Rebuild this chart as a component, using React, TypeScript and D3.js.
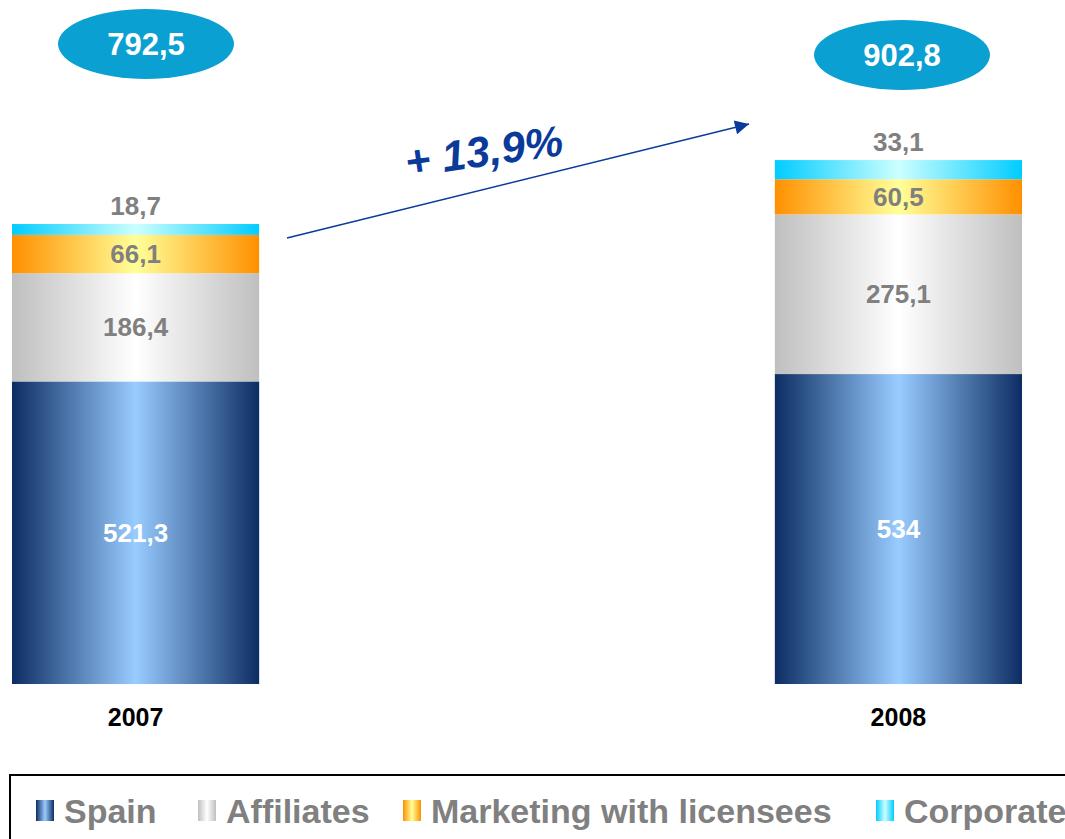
import { useRef, useEffect } from 'react';
import * as d3 from 'd3';

const YEARS = ['2007', '2008'];
const SERIES = ['Spain', 'Affiliates', 'Marketing with licensees', 'Corporate'];
const SPAIN = [521.3, 534];
const AFFILIATES = [186.4, 275.1];
const MARKETING = [66.1, 60.5];
const CORPORATE = [18.7, 33.1];
const TOTAL_LABELS = ['792,5', '902,8'];
const GROWTH_LABEL = '+ 13,9%';

// edge / centre colours of the horizontal gradients
const GRADIENTS = [
  { id: 'g-spain', edge: '#0c2d63', mid: '#99ccff' },
  { id: 'g-aff', edge: '#bfbfbf', mid: '#ffffff' },
  { id: 'g-mkt', edge: '#ff9000', mid: '#ffff99' },
  { id: 'g-corp', edge: '#00ccff', mid: '#ccffff' },
];

const fmt = (v: number) => String(v).replace('.', ',');

export default function App() {
  const svgRef = useRef<SVGSVGElement>(null);

  useEffect(() => {
    const svg = d3.select(svgRef.current);
    svg.selectAll('*').remove();
    const W = 1065, H = 839;
    svg.attr('width', W).attr('height', H).style('display', 'block')
      .style('font-family', '"Liberation Sans", Arial, sans-serif');

    const defs = svg.append('defs');
    GRADIENTS.forEach(g => {
      const lg = defs.append('linearGradient').attr('id', g.id)
        .attr('x1', '0%').attr('x2', '100%').attr('y1', '0%').attr('y2', '0%');
      lg.append('stop').attr('offset', '0%').attr('stop-color', g.edge);
      lg.append('stop').attr('offset', '50%').attr('stop-color', g.mid);
      lg.append('stop').attr('offset', '100%').attr('stop-color', g.edge);
    });

    const rows = YEARS.map((year, i) => ({
      year,
      Spain: SPAIN[i],
      Affiliates: AFFILIATES[i],
      'Marketing with licensees': MARKETING[i],
      Corporate: CORPORATE[i],
    }));
    const stacked = d3.stack<any>().keys(SERIES)(rows);

    const x = d3.scaleBand().domain(YEARS).range([12, 1022]).paddingInner(0.676).paddingOuter(0);
    const y = d3.scaleLinear().domain([0, 1000]).range([684, 103.6]);

    const g = svg.append('g');

    stacked.forEach((layer, si) => {
      g.selectAll(`rect.s${si}`)
        .data(layer)
        .enter()
        .append('rect')
        .attr('x', d => x(d.data.year)!)
        .attr('y', d => y(d[1]))
        .attr('width', x.bandwidth())
        .attr('height', d => y(d[0]) - y(d[1]))
        .attr('fill', `url(#${GRADIENTS[si].id})`);
    });

    // segment labels (corporate sits above the bar)
    stacked.forEach((layer, si) => {
      g.selectAll(`text.l${si}`)
        .data(layer)
        .enter()
        .append('text')
        .attr('x', d => x(d.data.year)! + x.bandwidth() / 2)
        .attr('y', d => si === 3 ? y(d[1]) - 18 : y((d[0] + d[1]) / 2))
        .attr('dy', '0.35em')
        .attr('text-anchor', 'middle')
        .style('font-size', '26px')
        .style('font-weight', 'bold')
        .style('fill', si === 0 ? '#ffffff' : '#808080')
        .text(d => fmt(+(d[1] - d[0]).toFixed(1)));
    });

    // year labels
    g.selectAll('text.year')
      .data(YEARS)
      .enter()
      .append('text')
      .attr('x', d => x(d)! + x.bandwidth() / 2)
      .attr('y', 717)
      .attr('dy', '0.35em')
      .attr('text-anchor', 'middle')
      .style('font-size', '25px')
      .style('font-weight', 'bold')
      .style('fill', '#000')
      .text(d => d);

    // totals in ellipses
    const ellipseX = [146, 902];
    const tot = g.selectAll('g.tot').data(TOTAL_LABELS).enter().append('g')
      .attr('transform', (d, i) => `translate(${ellipseX[i]},${i === 0 ? 44 : 55})`);
    tot.append('ellipse').attr('rx', 88).attr('ry', 35).attr('fill', '#0aa0d2');
    tot.append('text').attr('text-anchor', 'middle').attr('dy', '0.35em')
      .style('font-size', '31px').style('font-weight', 'bold').style('fill', '#fff')
      .text(d => d);

    // growth arrow
    const x0 = 287, y0 = 238, x1 = 757, y1 = 122;
    defs.append('marker').attr('id', 'arrow').attr('viewBox', '0 0 10 10')
      .attr('refX', 10).attr('refY', 5).attr('markerWidth', 19).attr('markerHeight', 14)
      .attr('markerUnits', 'userSpaceOnUse').attr('orient', 'auto')
      .append('path').attr('d', 'M0,0L10,5L0,10Z').attr('fill', '#0a3a9a');
    g.append('line').attr('x1', x0).attr('y1', y0).attr('x2', x1 - 8).attr('y2', y1 + 2)
      .attr('stroke', '#0a3a9a').attr('stroke-width', 1.6).attr('marker-end', 'url(#arrow)');
    g.append('text')
      .attr('transform', `translate(486,166) rotate(-8)`)
      .attr('text-anchor', 'middle')
      .style('font-size', '43px').style('font-weight', 'bold').style('font-style', 'italic')
      .style('fill', '#0a3a9a')
      .text(GROWTH_LABEL);

    // legend
    g.append('rect').attr('x', 10).attr('y', 775).attr('width', 1070).attr('height', 80)
      .attr('fill', 'none').attr('stroke', '#000').attr('stroke-width', 2);
    const legendX = [36, 198, 403, 876];
    const li = g.selectAll('g.leg').data(SERIES).enter().append('g')
      .attr('transform', (d, i) => `translate(${legendX[i]},800)`);
    li.append('rect').attr('width', 18).attr('height', 21)
      .attr('fill', (d, i) => `url(#${GRADIENTS[i].id})`);
    li.append('text').attr('x', 28).attr('y', 10.5).attr('dy', '0.36em')
      .style('font-size', '34px').style('font-weight', 'bold').style('fill', '#808080')
      .text(d => d);
  }, []);

  return <svg ref={svgRef} style={{ position: 'absolute', left: 0, top: 0 }}></svg>;
}
